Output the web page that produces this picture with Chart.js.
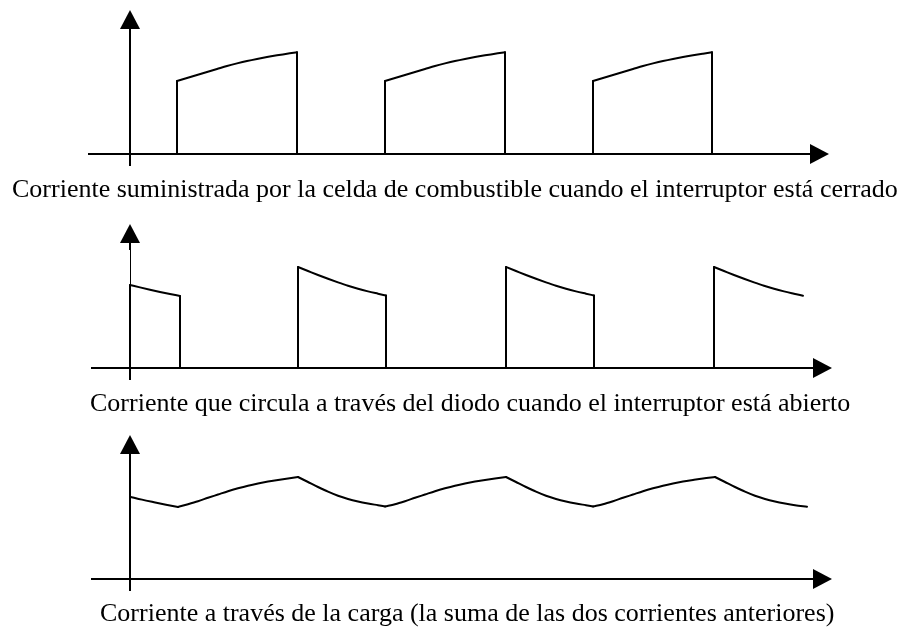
<!DOCTYPE html>
<html>
<head>
<meta charset="utf-8">
<script src="https://cdn.jsdelivr.net/npm/chart.js@4/dist/chart.umd.min.js"></script>
<style>
  html, body { margin: 0; padding: 0; background: #fff; }
  body { width: 907px; height: 631px; position: relative; overflow: hidden; }
  canvas { position: absolute; left: 0; }
  .cap { position: absolute; white-space: nowrap; font-family: "Liberation Serif", "Times New Roman", serif;
         font-size: 26px; line-height: 26px; color: #000; }
</style>
</head>
<body>
<canvas id="c1" width="907" height="175" style="top:0px"></canvas>
<canvas id="c2" width="907" height="175" style="top:214px"></canvas>
<canvas id="c3" width="907" height="175" style="top:425px"></canvas>
<div class="cap" id="t1" style="left:12px; top:176px"></div>
<div class="cap" id="t2" style="left:90px; top:390px"></div>
<div class="cap" id="t3" style="left:100px; top:600px"></div>
<script>
// ---- data (time in arbitrary units, current in arbitrary units) ----
const captions = [
  "Corriente suministrada por la celda de combustible cuando el interruptor está cerrado",
  "Corriente que circula a través del diodo cuando el interruptor está abierto",
  "Corriente a través de la carga (la suma de las dos corrientes anteriores)"
];

const fuelCellTime = [0, 47, 47, 57, 67, 77, 87, 97, 107, 117, 127, 137, 147, 157, 167, 167,
  255, 255, 265, 275, 285, 295, 305, 315, 325, 335, 345, 355, 365, 375, 375,
  463, 463, 473, 483, 493, 503, 513, 523, 533, 543, 553, 563, 573, 582, 582];
const fuelCellCurrent = [0, 0, 73, 76, 79, 82, 85, 88, 90.6, 93, 95.1, 97, 98.7, 100.3, 101.7, 0,
  0, 73, 76, 79, 82, 85, 88, 90.6, 93, 95.1, 97, 98.7, 100.3, 101.7, 0,
  0, 73, 76, 79, 82, 85, 88, 90.6, 93, 95.1, 97, 98.7, 100.3, 101.7, 0];

const diodeTime = [0, 0, 10, 20, 30, 40, 50, 50,
  168, 168, 178, 188, 198, 208, 218, 228, 238, 248, 256, 256,
  376, 376, 386, 396, 406, 416, 426, 436, 446, 456, 464, 464,
  584, 584, 594, 604, 614, 624, 634, 644, 654, 664, 673];
const diodeCurrent = [0, 83, 80.6, 78.3, 76.1, 74, 72, 0,
  0, 101, 97, 93, 89.2, 85.6, 82.2, 79.2, 76.6, 74.3, 72.5, 0,
  0, 101, 97, 93, 89.2, 85.6, 82.2, 79.2, 76.6, 74.3, 72.5, 0,
  0, 101, 97, 93, 89.2, 85.6, 82.2, 79.2, 76.6, 74.3, 72.3];

const loadTime = [0, 12, 24, 36, 48,
  58, 68, 78, 88, 98, 108, 118, 128, 138, 148, 158, 168,
  178, 188, 198, 208, 218, 228, 238, 248, 255,
  265, 275, 285, 295, 305, 315, 325, 335, 345, 355, 365, 376,
  386, 396, 406, 416, 426, 436, 446, 456, 463,
  473, 483, 493, 503, 513, 523, 533, 543, 553, 563, 573, 585,
  595, 605, 615, 625, 635, 645, 655, 665, 677];
const loadCurrent = [82.3, 79.4, 76.8, 74.3, 72,
  74.8, 77.8, 81.2, 84.5, 87.8, 90.7, 93.3, 95.5, 97.4, 99, 100.5, 102,
  97, 92, 87.3, 83.2, 80, 77.5, 75.5, 73.8, 72.6,
  74.8, 77.8, 81.2, 84.5, 87.8, 90.7, 93.3, 95.5, 97.4, 99, 100.5, 102,
  97, 92, 87.3, 83.2, 80, 77.5, 75.5, 73.8, 72.6,
  74.8, 77.8, 81.2, 84.5, 87.8, 90.7, 93.3, 95.5, 97.4, 99, 100.5, 102,
  97, 92, 87.3, 83.2, 80, 77.5, 75.5, 73.8, 72.3];

// ---- drawing ----
document.getElementById('t1').textContent = captions[0];
document.getElementById('t2').textContent = captions[1];
document.getElementById('t3').textContent = captions[2];

const arrowAxes = {
  id: 'arrowAxes',
  beforeDatasetsDraw(chart, args, opts) {
    const ctx = chart.ctx, a = chart.chartArea;
    const xs = chart.scales.x, ys = chart.scales.y;
    const y0 = Math.round(ys.getPixelForValue(0));
    const x0 = Math.round(xs.getPixelForValue(0));
    const thin = opts.thinYAxis;
    ctx.save();
    ctx.strokeStyle = '#000'; ctx.fillStyle = '#000'; ctx.lineWidth = 2;
    // x axis with arrow
    ctx.beginPath(); ctx.moveTo(a.left, y0); ctx.lineTo(a.right - 15, y0); ctx.stroke();
    ctx.beginPath(); ctx.moveTo(a.right, y0); ctx.lineTo(a.right - 19, y0 - 10); ctx.lineTo(a.right - 19, y0 + 10); ctx.closePath(); ctx.fill();
    // y axis with arrow
    if (thin) {
      ctx.beginPath(); ctx.moveTo(x0, a.bottom); ctx.lineTo(x0, y0); ctx.stroke();
      ctx.beginPath(); ctx.moveTo(x0, a.top + 26); ctx.lineTo(x0, a.top + 15); ctx.stroke();
      ctx.lineWidth = 1;
      ctx.beginPath(); ctx.moveTo(x0 + 0.5, y0); ctx.lineTo(x0 + 0.5, a.top + 15); ctx.stroke();
    } else {
      ctx.beginPath(); ctx.moveTo(x0, a.bottom); ctx.lineTo(x0, a.top + 15); ctx.stroke();
    }
    ctx.beginPath(); ctx.moveTo(x0, a.top); ctx.lineTo(x0 - 10, a.top + 19); ctx.lineTo(x0 + 10, a.top + 19); ctx.closePath(); ctx.fill();
    ctx.restore();
  }
};

// split a trace into monotone runs (rising, falling, flat, vertical edge) so each
// run can be drawn smoothly while corners stay sharp
function splitRuns(times, values) {
  const runs = [];
  let cur = [{ x: times[0], y: values[0] }], dir = null;
  for (let i = 1; i < times.length; i++) {
    const prev = cur[cur.length - 1];
    const p = { x: times[i], y: values[i] };
    const d = p.x === prev.x ? 'v' : Math.sign(p.y - prev.y);
    if (dir === null || d === dir) { cur.push(p); dir = d; }
    else { runs.push({ pts: cur, dir }); cur = [prev, p]; dir = d; }
  }
  runs.push({ pts: cur, dir });
  return runs;
}

function makeChart(id, times, values, xmin, xmax, ymin, ymax, pad, thinYAxis) {
  const datasets = splitRuns(times, values).map(r => ({
    data: r.pts, borderColor: '#000', borderWidth: 2, pointRadius: 0, fill: false,
    tension: r.dir === 'v' ? 0 : 0.4,
    cubicInterpolationMode: r.dir === 'v' ? 'default' : 'monotone',
    borderCapStyle: 'round', borderJoinStyle: 'round', clip: 4
  }));
  return new Chart(document.getElementById(id), {
    type: 'line',
    data: { datasets },
    options: {
      responsive: false, animation: false, events: [],
      layout: { padding: pad },
      plugins: { legend: { display: false }, tooltip: { enabled: false }, title: { display: false },
                 arrowAxes: { thinYAxis } },
      scales: {
        x: { type: 'linear', min: xmin, max: xmax, display: false },
        y: { type: 'linear', min: ymin, max: ymax, display: false }
      }
    },
    plugins: [arrowAxes]
  });
}

makeChart('c1', fuelCellTime, fuelCellCurrent, -42, 699, -12, 144, { left: 88, right: 78, top: 10, bottom: 9 }, false);
makeChart('c2', diodeTime, diodeCurrent, -39, 702, -12, 144, { left: 91, right: 75, top: 10, bottom: 9 }, true);
makeChart('c3', loadTime, loadCurrent, -39, 702, -12, 144, { left: 91, right: 75, top: 10, bottom: 9 }, false);
</script>
</body>
</html>
